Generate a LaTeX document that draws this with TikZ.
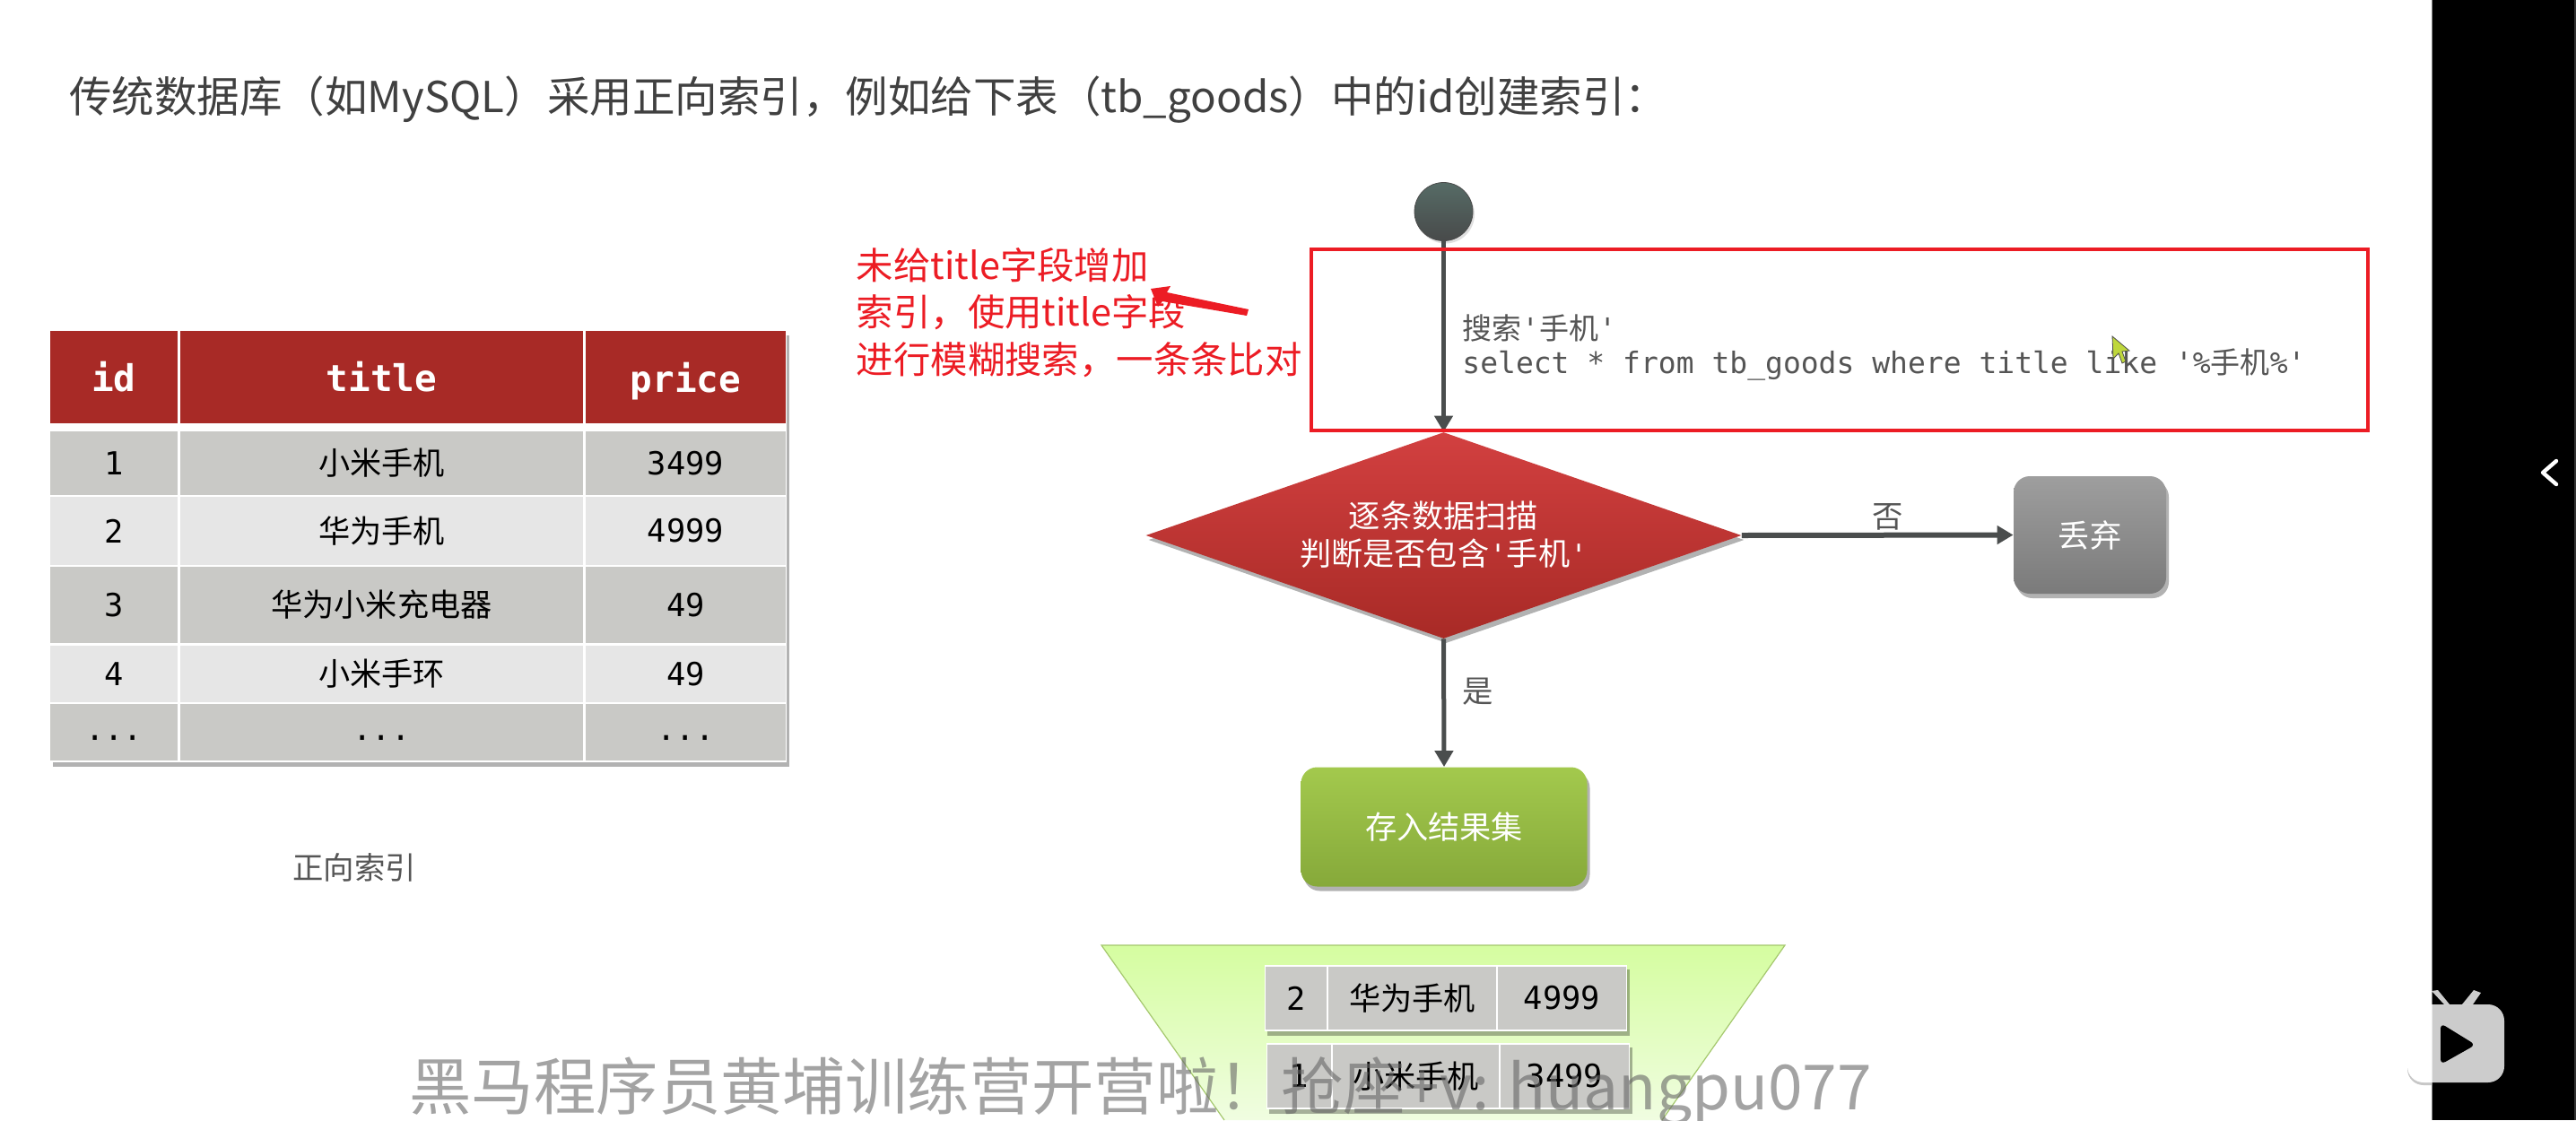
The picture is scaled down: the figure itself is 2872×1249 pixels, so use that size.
\documentclass[tikz,border=0pt]{standalone}
\usepackage{fontspec}
\setmainfont{Noto Sans CJK SC}
\newfontfamily\cjk{Noto Sans CJK SC}
\newfontfamily\monof{DejaVu Sans Mono}
\usetikzlibrary{shapes.geometric,shadows,arrows.meta,calc}
\definecolor{hdr}{HTML}{A82A26}
\definecolor{rowd}{HTML}{C9C9C6}
\definecolor{rowl}{HTML}{E6E6E6}
\definecolor{ink}{HTML}{4A4D4D}
\definecolor{txt}{HTML}{555555}
\definecolor{redm}{HTML}{EC1C24}
\tikzset{
  x=0.5pt,y=-0.5pt,
  softshadow/.style={drop shadow={shadow xshift=1.5pt,shadow yshift=-2.5pt,fill=black,opacity=.3}},
  cellbox/.style={inner sep=0pt,outer sep=0pt,text=black},
  link/.style={draw=ink,line width=2.5pt,-{Triangle[length=9pt,width=10pt]}},
  flowtxt/.style={text=white,font=\fontsize{17.6}{21}\selectfont,align=center,inner sep=0pt},
  lab/.style={text=txt,font=\fontsize{17.2}{21}\selectfont,inner sep=0pt},
  redtxt/.style={text=redm,font=\fontsize{20.7}{26}\selectfont,inner sep=0pt,anchor=west},
  codetxt/.style={text=txt,font=\monof\fontsize{16.5}{20}\selectfont,inner sep=0pt,anchor=west},
}
% \cell{name}{x1}{y1}{x2}{y2}{fill}{font}{text}
\newcommand\cell[8]{%
  \pgfmathsetmacro\cw{(#4-#2)*0.5}\pgfmathsetmacro\chh{(#5-#3)*0.5}%
  \node[cellbox,fill=#6,minimum width=\cw pt,minimum height=\chh pt,font=#7] (#1) at ({(#2+#4)/2},{(#3+#5)/2}) {#8};}
\newcommand\mfnt{\monof\fontsize{17.7}{20}\selectfont}
\newcommand\cfnt{\cjk\fontsize{17.6}{20}\selectfont}
\newcommand\hfnt{\monof\bfseries\fontsize{20.5}{24}\selectfont}
\newcommand\dotstxt{\raisebox{-4.5pt}[0pt][0pt]{...}}
\begin{document}
\begin{tikzpicture}
\useasboundingbox (0,0) rectangle (2872,1249);
\fill[white] (0,0) rectangle (2872,1249);
% right side bar
\fill[black] (2711,0) rectangle (2870,1249);
\fill[black!80] (2870,0) rectangle (2872,1249);
\draw[black!45,line width=.5pt] (2711,0) -- (2711,1249);
\coordinate (cha) at (2850,514); \coordinate (chb) at (2835,527); \coordinate (chc) at (2850,540);
\draw[white,line width=2.2pt,line cap=round,line join=round] (cha) -- (chb) -- (chc);
% logo
\begin{scope}
\clip (2660,1090) rectangle (2711,1230);
\fill[black!22,rounded corners=9pt] (2684,1124) rectangle (2792,1210);
\fill[white,rounded corners=9pt] (2684,1120) rectangle (2792,1207);
\end{scope}
\begin{scope}
\clip (2711,1090) rectangle (2870,1230);
\fill[white,opacity=.8,rounded corners=9pt] (2684,1120) rectangle (2792,1207);
\fill[white,opacity=.8,line join=round] (2711,1105) -- (2718,1104) -- (2731,1120) -- (2745,1120) -- (2758,1104) -- (2766,1107) -- (2757,1120) -- (2725,1120) -- cycle;
\end{scope}
\fill[black,rounded corners=3pt] (2721,1141) -- (2760,1165) -- (2721,1187) -- cycle;
% title
\node[inner sep=0pt,anchor=west,text=black!75!white,font=\fontsize{23.75}{30}\selectfont] (title) at (77,111.5) {传统数据库（如MySQL）采用正向索引，例如给下表（tb\_goods）中的id创建索引：};
% main table
\fill[white,softshadow] (56,369) rectangle (877,850);
\cell{h1}{56}{369}{198}{472}{hdr}{\hfnt}{\color{white}id}
\cell{h2}{201}{369}{650}{472}{hdr}{\hfnt}{\color{white}title}
\cell{h3}{653}{369}{876}{472}{hdr}{\hfnt}{\color{white}\raisebox{0pt}[\height][0pt]{price}}
\cell{a1}{56}{481}{198}{552}{rowd}{\mfnt}{1}
\cell{a2}{201}{481}{650}{552}{rowd}{\cfnt}{小米手机}
\cell{a3}{653}{481}{876}{552}{rowd}{\mfnt}{3499}
\cell{b1}{56}{554}{198}{630}{rowl}{\mfnt}{2}
\cell{b2}{201}{554}{650}{630}{rowl}{\cfnt}{华为手机}
\cell{b3}{653}{554}{876}{630}{rowl}{\mfnt}{4999}
\cell{c1}{56}{632}{198}{717}{rowd}{\mfnt}{3}
\cell{c2}{201}{632}{650}{717}{rowd}{\cfnt}{华为小米充电器}
\cell{c3}{653}{632}{876}{717}{rowd}{\mfnt}{49}
\cell{d1}{56}{720}{198}{783}{rowl}{\mfnt}{4}
\cell{d2}{201}{720}{650}{783}{rowl}{\cfnt}{小米手环}
\cell{d3}{653}{720}{876}{783}{rowl}{\mfnt}{49}
\cell{e1}{56}{785}{198}{848}{rowd}{\mfnt}{\dotstxt}
\cell{e2}{201}{785}{650}{848}{rowd}{\mfnt}{\dotstxt}
\cell{e3}{653}{785}{876}{848}{rowd}{\mfnt}{\dotstxt}
\node[lab] (zx) at (395,967) {正向索引};
% flow shapes
\node[circle,minimum size=32.5pt,inner sep=0pt,draw=black!70,line width=.4pt,top color={rgb,255:red,86;green,107;blue,102},bottom color={rgb,255:red,72;green,74;blue,74},drop shadow={shadow xshift=1pt,shadow yshift=-1.5pt,opacity=.25}] (start) at (1609.5,236) {};
\node[diamond,shape aspect=2.887,minimum width=332pt,minimum height=115pt,inner sep=0pt,top color={rgb,255:red,210;green,64;blue,64},bottom color=hdr,draw=none,softshadow] (dec) at (1609.5,597) {};
\node[flowtxt] (dect1) at (1609.5,575) {逐条数据扫描};
\node[flowtxt] (dect2) at (1609.5,617) {判断是否包含{\monof\fontsize{16.3}{20}\selectfont'}手机{\monof\fontsize{16.3}{20}\selectfont'}};
\node[rounded corners=9pt,minimum width=85pt,minimum height=65.5pt,inner sep=0pt,top color=black!38,bottom color=black!52,softshadow,flowtxt] (drop) at (2330,596.5) {丢弃};
\node[rounded corners=9pt,minimum width=159.5pt,minimum height=66.5pt,inner sep=0pt,top color={rgb,255:red,163;green,201;blue,77},bottom color={rgb,255:red,134;green,169;blue,58},softshadow,flowtxt] (store) at (1610,922) {存入结果集};
% funnel
\coordinate (fa) at (1228,1054); \coordinate (fb) at (1990,1054); \coordinate (fc) at (1853,1249); \coordinate (fd) at (1365,1249);
\draw[draw={rgb,255:red,165;green,200;blue,110},line width=.6pt,top color={rgb,255:red,213;green,253;blue,160},bottom color={rgb,255:red,240;green,253;blue,225}] (fd) -- (fa) -- (fb) -- (fc);
% small tables
\fill[white,softshadow] (1410,1076) rectangle (1814,1150);
\cell{r1}{1411}{1078}{1479}{1148}{rowd}{\mfnt}{2}
\cell{r2}{1481}{1078}{1668}{1148}{rowd}{\cfnt}{华为手机}
\cell{r3}{1670}{1078}{1813}{1148}{rowd}{\mfnt}{4999}
\fill[white,softshadow] (1412,1163) rectangle (1817,1237);
\cell{s1}{1413}{1165}{1484}{1235}{rowd}{\mfnt}{1}
\cell{s2}{1486}{1165}{1671}{1235}{rowd}{\cfnt}{小米手机}
\cell{s3}{1673}{1165}{1816}{1235}{rowd}{\mfnt}{3499}
% connectors
\draw[link] (start) -- (dec.north);
\draw[link,line width=3pt] (dec.east) -- (drop.west);
\draw[link] (dec.south) -- (store.north);
\node[lab] (no) at (2105,576) {否};
\node[lab] (yes) at (1648,771) {是};
% red box and annotation
\node[draw=redm,line width=2pt,minimum width=589pt,minimum height=101pt,inner sep=0pt] (rbox) at (2051,379) {};
\node[codetxt] (c1) at (1630,366) {{\cjk 搜索}'{\cjk 手机}'};
\node[codetxt] (c2) at (1630,407) {select * from tb\_goods where title like '\%{\cjk 手机}\%'};
\node[redtxt] (r1) at (954.5,296) {未给title字段增加};
\node[redtxt] (r2) at (954.5,348.5) {索引，使用title字段};
\node[redtxt] (r3) at (954.5,401) {进行模糊搜索，一条条比对};
\coordinate (rtail) at (1390,349); \coordinate (rtip) at (1283,322);
\fill[redm] (rtip) -- (1305,319) -- (1301,326) -- (1392,345) -- (1390,352) -- (1296,336) -- (1291,342) -- cycle;
% cursor
\draw[draw=black!70,line width=.4pt,fill={rgb,255:red,190;green,215;blue,60}] (2355,375) -- (2356,400) -- (2362,394) -- (2366,405) -- (2370,403) -- (2366,392) -- (2374,391) -- cycle;
% watermark
\node[inner sep=0pt,anchor=west,text=black!60!white,opacity=.6,font=\fontsize{34.7}{40}\selectfont] (wm) at (456,1217) {黑马程序员黄埔训练营开营啦！抢座+v: huangpu077};
\end{tikzpicture}
\end{document}
